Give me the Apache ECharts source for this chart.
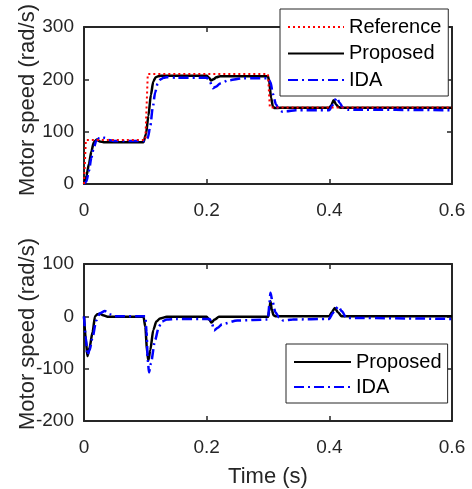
<!DOCTYPE html>
<html>
<head>
<meta charset="utf-8">
<script src="https://cdn.jsdelivr.net/npm/echarts@6/dist/echarts.min.js"></script>
<style>html,body{margin:0;padding:0;background:#fff}#c{width:472px;height:489px}</style>
</head>
<body>
<div id="c"></div>
<script>
// ---- data ----
const xTickLabels = ['0', '0.2', '0.4', '0.6'];
const yTopTicks = ['0', '100', '200', '300'];
const yBottomTicks = ['-200', '-100', '0', '100'];
const seriesNames = ['Reference', 'Proposed', 'IDA'];

// top panel: motor speed
const refT = [0, 0.003, 0.1, 0.104, 0.3, 0.303, 0.6];
const refV = [0, 84, 84, 210, 210, 146, 146];

const propT = [0, 0.004, 0.008, 0.012, 0.016, 0.021, 0.026, 0.032, 0.05, 0.097, 0.101, 0.105, 0.109, 0.113, 0.117, 0.121, 0.126, 0.14, 0.2, 0.204, 0.207, 0.211, 0.216, 0.222, 0.3, 0.302, 0.305, 0.308, 0.311, 0.32, 0.4, 0.403, 0.407, 0.411, 0.415, 0.42, 0.6];
const propV = [0, 15, 38, 62, 80, 85, 81, 80, 80, 80, 95, 130, 170, 196, 204, 206, 207, 207, 207, 203, 198, 200, 204, 206, 206, 195, 165, 148, 145, 145.5, 145.5, 150, 160, 152, 147, 145.5, 145.5];

const idaT = [0, 0.004, 0.008, 0.012, 0.016, 0.02, 0.025, 0.029, 0.034, 0.04, 0.05, 0.1, 0.104, 0.108, 0.112, 0.116, 0.12, 0.125, 0.13, 0.135, 0.15, 0.2, 0.205, 0.21, 0.215, 0.222, 0.235, 0.26, 0.3, 0.304, 0.308, 0.313, 0.318, 0.324, 0.33, 0.345, 0.4, 0.406, 0.412, 0.417, 0.422, 0.43, 0.6];
const idaV = [0, 5, 25, 50, 70, 82, 88, 90, 88, 84, 82, 82, 88, 110, 145, 175, 192, 200, 203, 204, 203, 203, 196, 183, 186, 192, 198, 202, 202, 195, 172, 152, 142, 138, 139, 141, 141, 152, 165, 155, 146, 142, 141];

// bottom panel: speed error
const errPropT = [0, 0.003, 0.0055, 0.009, 0.014, 0.018, 0.022, 0.026, 0.031, 0.04, 0.097, 0.1, 0.103, 0.105, 0.108, 0.113, 0.118, 0.124, 0.135, 0.2, 0.204, 0.208, 0.213, 0.22, 0.3, 0.302, 0.304, 0.306, 0.309, 0.312, 0.4, 0.404, 0.409, 0.414, 0.42, 0.6];
const errPropV = [0, -45, -76, -60, -30, 0, 4, 5, 2, -1, -1, -20, -70, -84, -65, -26, -10, -4, -1, -1, -6, -12, -6, -1, -1, 10, 29, 14, 2, 0, 0, 8, 16, 8, 0, 0];

const errIdaT = [0, 0.003, 0.0055, 0.009, 0.014, 0.02, 0.026, 0.034, 0.042, 0.05, 0.1, 0.102, 0.104, 0.106, 0.109, 0.116, 0.122, 0.127, 0.135, 0.15, 0.205, 0.209, 0.212, 0.218, 0.225, 0.25, 0.3, 0.302, 0.304, 0.307, 0.312, 0.318, 0.325, 0.34, 0.4, 0.405, 0.41, 0.415, 0.42, 0.428, 0.6];
const errIdaV = [0, -40, -74, -65, -40, -8, 6, 10, 4, 0, 0, -30, -85, -107, -90, -45, -20, -10, -6, -5, -5, -15, -27, -22, -15, -8, -6, 20, 45, 30, 8, -2, -8, -6, -5, 5, 14, 19, 10, -3, -5];

// ---- build ----
const zip = (t, v) => t.map((x, i) => [x, v[i]]);
const FONT = "'Liberation Sans', Arial, Helvetica, sans-serif";
const AX = '#262626';

function xAx(g, top, withName) {
  return {
    type: 'value', gridIndex: g, min: 0, max: 0.6, interval: 0.2,
    position: top ? 'top' : 'bottom',
    axisLine: { show: true, onZero: false, lineStyle: { color: AX, width: 2 } },
    axisTick: { show: true, inside: true, length: 5, lineStyle: { color: AX, width: 1.5 } },
    axisLabel: { show: !top, color: AX, fontSize: 19, fontFamily: FONT, margin: 17,
      formatter: v => xTickLabels[Math.round(v / 0.2)] },
    splitLine: { show: false },
    name: withName ? 'Time (s)' : '', nameLocation: 'middle', nameGap: 45,
    nameTextStyle: { color: AX, fontSize: 22, fontFamily: FONT }
  };
}
function yAx(g, right, min, max, labels) {
  return {
    type: 'value', gridIndex: g, min: min, max: max, interval: 100,
    position: right ? 'right' : 'left',
    axisLine: { show: true, onZero: false, lineStyle: { color: AX, width: 2 } },
    axisTick: { show: true, inside: true, length: 5, lineStyle: { color: AX, width: 1.5 } },
    axisLabel: { show: !right, color: AX, fontSize: 19, fontFamily: FONT, margin: 10,
      formatter: v => labels[Math.round((v - min) / 100)] },
    splitLine: { show: false }
  };
}
const base = { type: 'line', showSymbol: false, symbol: 'none', smooth: 0.25, smoothMonotone: 'x', animation: false };
const blackStyle = { color: '#000000', width: 2.5, type: 'solid' };
const blueStyle = { color: '#0000ff', width: 2.5, type: [10, 4, 2, 4] };
const redStyle = { color: '#ff0000', width: 2, type: [2, 3] };
const legendCommon = {
  orient: 'vertical', backgroundColor: '#ffffff', borderColor: AX, borderWidth: 1, borderRadius: 0,
  itemHeight: 20, itemStyle: { opacity: 0, color: 'rgba(0,0,0,0)', borderWidth: 0 },
  textStyle: { fontSize: 20, color: '#000', fontFamily: FONT }
};

const option = {
  animation: false,
  backgroundColor: '#ffffff',
  textStyle: { fontFamily: FONT },
  grid: [
    { left: 84, top: 27, width: 368, height: 157 },
    { left: 84, top: 264, width: 368, height: 157 }
  ],
  xAxis: [xAx(0, false, false), xAx(0, true, false), xAx(1, false, true), xAx(1, true, false)],
  yAxis: [yAx(0, false, 0, 300, yTopTicks), yAx(0, true, 0, 300, yTopTicks),
          yAx(1, false, -200, 100, yBottomTicks), yAx(1, true, -200, 100, yBottomTicks)],
  legend: [
    Object.assign({}, legendCommon, { data: seriesNames, left: 280, top: 9, padding: [8, 7, 6, 7], itemWidth: 56, itemGap: 6.5 }),
    Object.assign({}, legendCommon, { data: seriesNames.slice(1), left: 286, top: 344, padding: [8, 6, 6, 7], itemWidth: 57, itemGap: 5 })
  ],
  graphic: [
    { type: 'text', x: 28, y: 100, rotation: Math.PI / 2,
      style: { text: 'Motor speed (rad/s)', fill: AX, font: '22px ' + FONT, textAlign: 'center', textVerticalAlign: 'middle' } },
    { type: 'text', x: 28, y: 334, rotation: Math.PI / 2,
      style: { text: 'Motor speed (rad/s)', fill: AX, font: '22px ' + FONT, textAlign: 'center', textVerticalAlign: 'middle' } }
  ],
  series: [
    Object.assign({}, base, { name: seriesNames[0], xAxisIndex: 0, yAxisIndex: 0, smooth: false, data: zip(refT, refV), lineStyle: redStyle, itemStyle: { color: '#ff0000' }, z: 3 }),
    Object.assign({}, base, { name: seriesNames[1], xAxisIndex: 0, yAxisIndex: 0, data: zip(propT, propV), lineStyle: blackStyle, itemStyle: { color: '#000' }, z: 2 }),
    Object.assign({}, base, { name: seriesNames[2], xAxisIndex: 0, yAxisIndex: 0, data: zip(idaT, idaV), lineStyle: blueStyle, itemStyle: { color: '#0000ff' }, z: 2 }),
    Object.assign({}, base, { name: seriesNames[1], xAxisIndex: 2, yAxisIndex: 2, data: zip(errPropT, errPropV), lineStyle: blackStyle, itemStyle: { color: '#000' }, z: 2 }),
    Object.assign({}, base, { name: seriesNames[2], xAxisIndex: 2, yAxisIndex: 2, data: zip(errIdaT, errIdaV), lineStyle: blueStyle, itemStyle: { color: '#0000ff' }, z: 2 })
  ]
};
const chart = echarts.init(document.getElementById('c'), null, { renderer: 'canvas' });
chart.setOption(option);
</script>
</body>
</html>
